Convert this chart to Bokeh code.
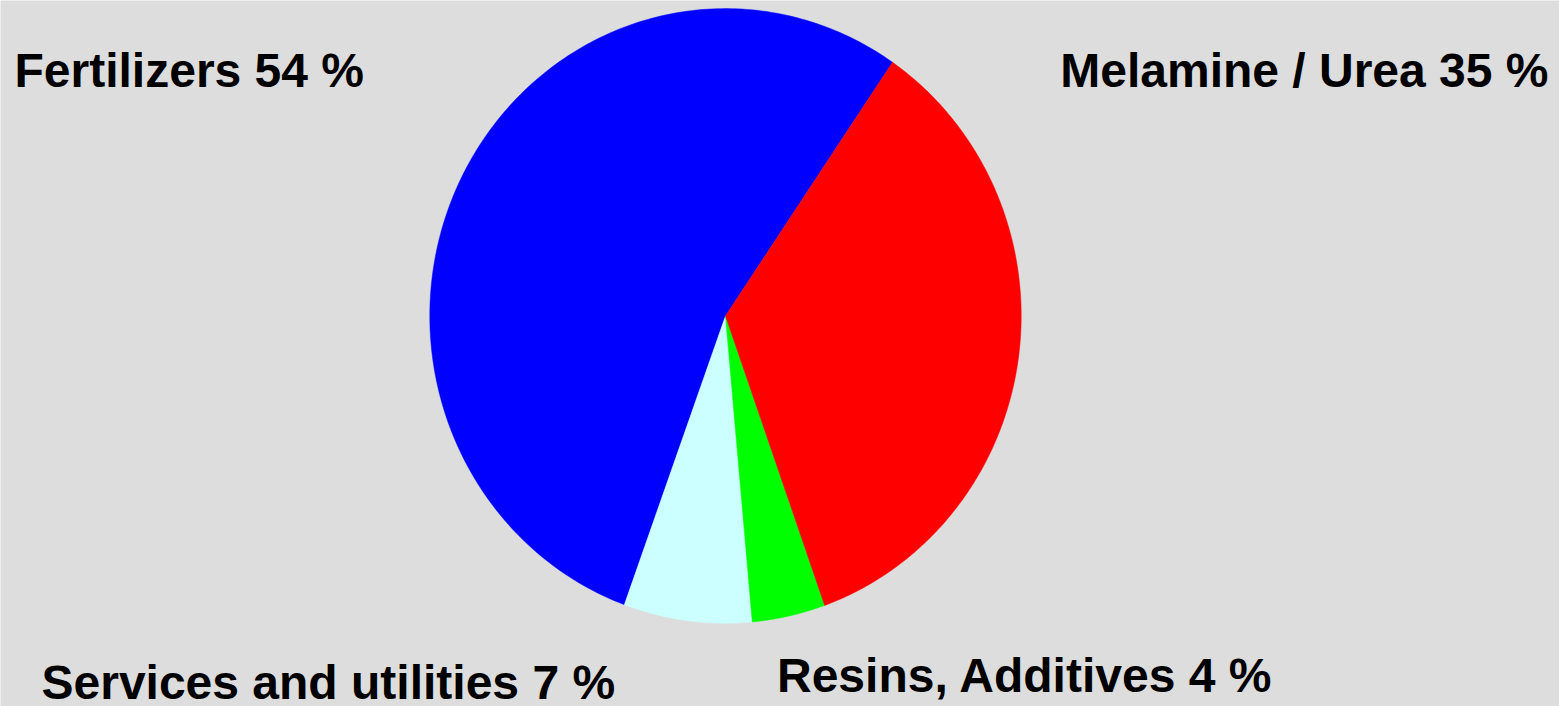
import numpy as np
from bokeh.plotting import figure
from bokeh.models import ColumnDataSource, Range1d
from bokeh.core.properties import value
from bokeh.embed import file_html
from bokeh.resources import INLINE

# ---- data ----
categories = ["Fertilizers", "Services and utilities", "Resins, Additives", "Melamine / Urea"]
shares = [54, 7, 4, 35]
colors = ["#0000ff", "#ccffff", "#00ff00", "#ff0000"]
labels = ["Fertilizers 54 %", "Services and utilities 7 %", "Resins, Additives 4 %", "Melamine / Urea 35 %"]

# ---- layout constants ----
W, H = 1559, 706
cx, cy = 725.0, 390.6      # pie centre (data units = pixels)
rx, ry = 295.7, 307.3      # pie radii
start_deg = 55.6           # angle of first slice start, counter-clockwise

p = figure(width=W, height=H, output_backend="svg", toolbar_location=None,
           x_range=Range1d(0, W), y_range=Range1d(0, H),
           min_border=0, background_fill_color="#dddddd",
           border_fill_color="#dddddd", outline_line_color=None)
p.axis.visible = False
p.grid.visible = False

vals = np.array(shares, dtype=float)
frac = vals / vals.sum()
ends = start_deg + np.cumsum(frac) * 360.0
starts = ends - frac * 360.0

xs, ys = [], []
for a0, a1 in zip(starts, ends):
    t = np.radians(np.linspace(a0, a1, 200))
    xs.append(np.concatenate([[cx], cx + rx * np.cos(t), [cx]]).tolist())
    ys.append(np.concatenate([[cy], cy + ry * np.sin(t), [cy]]).tolist())

src = ColumnDataSource(dict(xs=xs, ys=ys, color=colors, cat=categories))
p.patches("xs", "ys", source=src, fill_color="color", line_color="color", line_width=0.5)

# labels
lab_x = [14, 41, 776.5, 1548]
lab_y = [636, 24, 31, 636]
lab_align = ["left", "left", "left", "right"]
lsrc = ColumnDataSource(dict(x=lab_x, y=lab_y, text=labels, align=lab_align))
p.text("x", "y", text="text", source=lsrc, text_align="align",
       text_baseline="alphabetic", text_font=value("Liberation Sans"),
       text_font_style="bold", text_font_size="48px", text_color="black")

open("out.html", "w").write(file_html(p, INLINE))
